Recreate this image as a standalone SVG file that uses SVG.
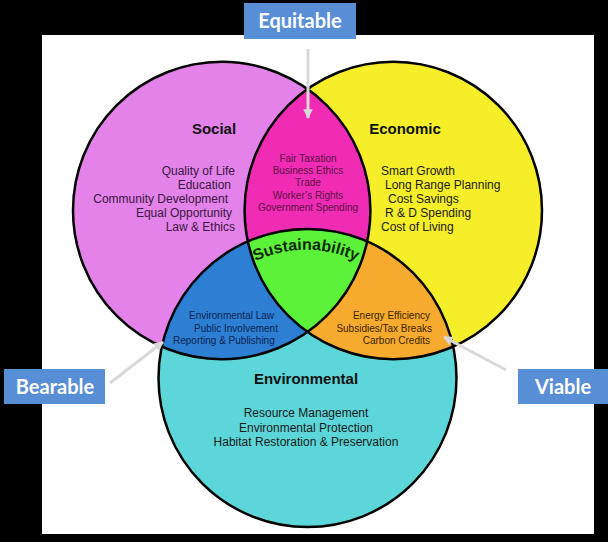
<svg xmlns="http://www.w3.org/2000/svg" width="608" height="542" viewBox="0 0 608 542">
<style>
.lbl{font-family:"Liberation Sans",Arial,sans-serif;fill:#1a1a1a}
.head{font-size:15px;font-weight:bold;fill:#111}
.item{font-size:12px}
.small{font-size:10px}
.box{fill:#588ED6}
.boxt{font-family:Lato,"Liberation Sans",sans-serif;font-weight:bold;font-size:20px;fill:#fff;text-anchor:middle}
.outline{fill:none;stroke:#000;stroke-width:2.5}
.arrow{stroke:#D9D9D9;stroke-width:3;fill:none;marker-end:url(#ah)}
</style>
<defs>
<clipPath id="cs"><circle cx="221.7" cy="210.5" r="148.7"/></clipPath>
<clipPath id="ce"><circle cx="393.3" cy="210.5" r="148.7"/></clipPath>
<marker id="ah" viewBox="0 0 10 10" refX="9" refY="5" markerWidth="3.2" markerHeight="3.2" orient="auto" markerUnits="strokeWidth">
<path d="M0,0 L10,5 L0,10 z" fill="#D9D9D9"/>
</marker>
<path id="sarc" d="M240,270 A118,118 0 0 1 372,270"/>
</defs>
<rect width="608" height="542" fill="#000"/>
<rect x="42" y="35" width="552" height="499" fill="#fff"/>

<g id="social">
<circle cx="221.7" cy="210.5" r="148.7" fill="#E383EA"/>
</g>
<g id="economic">
<circle cx="393.3" cy="210.5" r="148.7" fill="#F5EE28"/>
</g>
<g id="environmental">
<circle cx="307.5" cy="378" r="149" fill="#5CD6D8"/>
</g>
<g id="equitable-region">
<circle cx="393.3" cy="210.5" r="148.7" fill="#F12CB4" clip-path="url(#cs)"/>
</g>
<g id="bearable-region">
<circle cx="307.5" cy="378" r="149" fill="#2D7FD4" clip-path="url(#cs)"/>
</g>
<g id="viable-region">
<circle cx="307.5" cy="378" r="149" fill="#F6AB2E" clip-path="url(#ce)"/>
</g>
<g id="sustainability-region">
<g clip-path="url(#cs)"><circle cx="307.5" cy="378" r="149" fill="#5CF23A" clip-path="url(#ce)"/></g>
</g>
<g id="outlines">
<circle class="outline" cx="221.7" cy="210.5" r="148.7"/>
<circle class="outline" cx="393.3" cy="210.5" r="148.7"/>
<circle class="outline" cx="307.5" cy="378" r="149"/>
</g>

<g id="social-text" class="lbl">
<text class="head" x="214" y="134" text-anchor="middle">Social</text>
<g class="item" fill="#3a1640" text-anchor="end" style="fill:#3a1640">
<text x="235" y="175">Quality of Life</text>
<text x="231" y="189">Education</text>
<text x="228" y="203">Community Development</text>
<text x="232" y="217">Equal Opportunity</text>
<text x="235" y="231">Law &amp; Ethics</text>
</g>
</g>

<g id="economic-text" class="lbl">
<text class="head" x="405" y="134" text-anchor="middle">Economic</text>
<g class="item">
<text x="381" y="175">Smart Growth</text>
<text x="385" y="189">Long Range Planning</text>
<text x="388" y="203">Cost Savings</text>
<text x="385" y="217">R &amp; D Spending</text>
<text x="381" y="231">Cost of Living</text>
</g>
</g>

<g id="equitable-text" class="lbl small" text-anchor="middle" style="fill:#5a1044">
<text x="308" y="162">Fair Taxation</text>
<text x="308" y="174">Business Ethics</text>
<text x="308" y="186">Trade</text>
<text x="308" y="199">Worker’s Rights</text>
<text x="308" y="211">Government Spending</text>
</g>

<g id="sustainability-text">
<text font-family="Liberation Sans,Arial,sans-serif" font-weight="bold" font-size="16" fill="#0f2a0a"><textPath href="#sarc" startOffset="50%" text-anchor="middle">Sustainability</textPath></text>
</g>

<g id="bearable-text" class="lbl small" style="fill:#0d2350">
<text x="189" y="319">Environmental Law</text>
<text x="194" y="332">Public Involvement</text>
<text x="173" y="344">Reporting &amp; Publishing</text>
</g>

<g id="viable-text" class="lbl small" text-anchor="end" style="fill:#3a2200">
<text x="430" y="319">Energy Efficiency</text>
<text x="432" y="332">Subsidies/Tax Breaks</text>
<text x="430" y="344">Carbon Credits</text>
</g>

<g id="environmental-text" class="lbl" text-anchor="middle">
<text class="head" x="306" y="384">Environmental</text>
<g class="item">
<text x="306" y="417">Resource Management</text>
<text x="306" y="432">Environmental Protection</text>
<text x="306" y="446">Habitat Restoration &amp; Preservation</text>
</g>
</g>

<g id="connectors">
<line class="arrow" x1="308" y1="49" x2="308" y2="118"/>
<line class="arrow" x1="110" y1="383" x2="163" y2="342"/>
<line class="arrow" x1="506" y1="370" x2="444" y2="337"/>
</g>

<g id="label-equitable">
<rect class="box" x="244" y="3" width="112" height="36"/>
<text class="boxt" x="300" y="28">Equitable</text>
</g>
<g id="label-bearable">
<rect class="box" x="4" y="369" width="101" height="35"/>
<text class="boxt" x="55" y="394">Bearable</text>
</g>
<g id="label-viable">
<rect class="box" x="518" y="369" width="90" height="35"/>
<text class="boxt" x="563" y="394">Viable</text>
</g>
</svg>
